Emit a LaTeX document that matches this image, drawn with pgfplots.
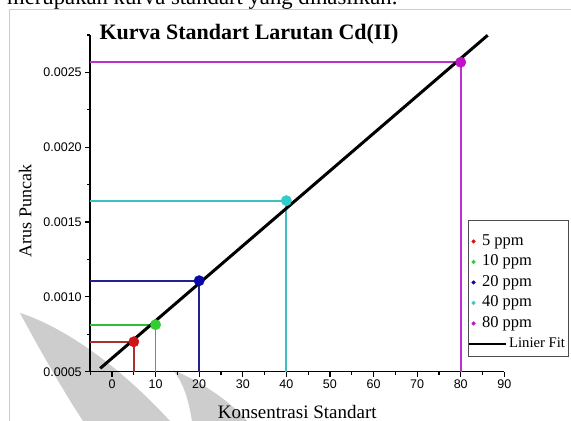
\documentclass[border=0pt]{standalone}
\usepackage{pgfplots}
\pgfplotsset{compat=1.18}
\usepackage{fontspec}
\setmainfont{Liberation Serif}
\newfontfamily\sansf{Liberation Sans}
\definecolor{cAl}{HTML}{A83232}
\definecolor{cAm}{HTML}{D01515}
\definecolor{cBl}{HTML}{33BB33}
\definecolor{cBm}{HTML}{33CC33}
\definecolor{cCl}{HTML}{22228F}
\definecolor{cCm}{HTML}{0808A8}
\definecolor{cDl}{HTML}{3FBFBF}
\definecolor{cDm}{HTML}{33CCCC}
\definecolor{cEl}{HTML}{BB33CC}
\definecolor{cEm}{HTML}{C010C8}
\definecolor{wm}{HTML}{CDCDCD}
\begin{document}
\begin{tikzpicture}
\path[use as bounding box] (-90.2bp,-49.3bp) rectangle (480.8bp,371.7bp);
\clip (-90.2bp,-49.3bp) rectangle (480.8bp,371.7bp);
\begin{scope}[shift={(-90.2bp,-49.3bp)}]
% watermark shapes
\fill[wm] (20bp,108bp) .. controls (55bp,97bp) and (110bp,65bp) .. (170bp,0bp) -- (83bp,0bp) .. controls (60bp,35bp) and (35bp,80bp) .. (20bp,108bp);
\fill[wm] (173bp,51bp) .. controls (200bp,40bp) and (230bp,20bp) .. (247bp,0bp) -- (192bp,0bp) .. controls (188bp,25bp) and (182bp,40bp) .. (173bp,51bp);
% page frame
\draw[black!20, line width=1bp] (10bp,0bp) -- (10bp,411bp) -- (571bp,411bp);
\node[anchor=base west, inner sep=0pt, font=\fontsize{22.7bp}{27bp}\selectfont] at (7bp,416.5bp) {merupakan kurva standart yang dihasilkan.};
\end{scope}
\begin{axis}[
  scale only axis, width=414.1bp, height=336.7bp,
  xmin=-5, xmax=90, ymin=0.0005, ymax=0.00275,
  clip=false,
  axis lines=left,
  axis line style={-, line width=1.5bp, black},
  tick align=outside,
  major tick length=5bp, minor tick length=3bp,
  tick style={black, line width=1.2bp},
  xtick={0,10,...,90}, minor xtick={-5,5,...,85},
  ytick={0.0005,0.001,0.0015,0.002,0.0025},
  minor ytick={0.00075,0.00125,0.00175,0.00225,0.00275},
  scaled y ticks=false,
  /pgf/number format/assume math mode=true,
  yticklabel style={/pgf/number format/.cd, fixed, fixed zerofill, precision=4},
  tick label style={font=\sansf\fontsize{12.5bp}{14bp}\selectfont},
  title={Kurva Standart Larutan Cd(II)},
  every axis title/.style={at={(axis description cs:0.3835,0.9866)}, anchor=base, font=\fontsize{22bp}{26bp}\selectfont\bfseries},
  xlabel={Konsentrasi Standart},
  every axis x label/.style={at={(axis description cs:0.5,-0.138)}, anchor=base, font=\fontsize{19bp}{22bp}\selectfont},
  ylabel={Arus Puncak},
  every axis y label/.style={at={(axis description cs:-0.157,0.477)}, anchor=center, rotate=90, font=\fontsize{18bp}{21bp}\selectfont},
  legend style={at={(0.9116,0.4506)}, anchor=north west, draw=black!70, line width=0.8bp,
    inner xsep=3.5bp, inner ysep=3.5bp, row sep=4.5bp, column sep=6.5bp,
    font=\fontsize{16.5bp}{19bp}\selectfont,
    cells={anchor=base west}, nodes={inner sep=0pt, text depth=5bp}},
]
% drop lines
\addplot[cAl, line width=1.8bp, forget plot] coordinates {(-5,0.0007) (5,0.0007) (5,0.0005)};
\addplot[cBl, line width=1.8bp, forget plot] coordinates {(-5,0.000814) (10,0.000814) (10,0.0005)};
\addplot[cCl, line width=1.8bp, forget plot] coordinates {(-5,0.001108) (20,0.001108) (20,0.0005)};
\addplot[cDl, line width=1.8bp, forget plot] coordinates {(-5,0.001643) (40,0.001643) (40,0.0005)};
\addplot[cEl, line width=1.8bp, forget plot] coordinates {(-5,0.002568) (80,0.002568) (80,0.0005)};
% points
\addplot[only marks, mark=*, mark size=5.2bp, color=cAm, mark options={draw=cAm, fill=cAm},
  legend image code/.code={\fill[cAm] (1.5bp,3.8bp) circle (1.6bp);}] coordinates {(5,0.0007)};
\addlegendentry{\rule{0pt}{21.4bp}5 ppm}
\addplot[only marks, mark=*, mark size=5.2bp, color=cBm, mark options={draw=cBm, fill=cBm},
  legend image code/.code={\fill[cBm] (1.5bp,3.8bp) circle (1.6bp);}] coordinates {(10,0.000814)};
\addlegendentry{\rule{0pt}{11bp}10 ppm}
\addplot[only marks, mark=*, mark size=5.2bp, color=cCm, mark options={draw=cCm, fill=cCm},
  legend image code/.code={\fill[cCm] (1.5bp,3.8bp) circle (1.6bp);}] coordinates {(20,0.001108)};
\addlegendentry{\rule{0pt}{11bp}20 ppm}
\addplot[only marks, mark=*, mark size=5.2bp, color=cDm, mark options={draw=cDm, fill=cDm},
  legend image code/.code={\fill[cDm] (1.5bp,3.8bp) circle (1.6bp);}] coordinates {(40,0.001643)};
\addlegendentry{\rule{0pt}{11bp}40 ppm}
\addplot[only marks, mark=*, mark size=5.2bp, color=cEm, mark options={draw=cEm, fill=cEm},
  legend image code/.code={\fill[cEm] (1.5bp,3.8bp) circle (1.6bp);}] coordinates {(80,0.002568)};
\addlegendentry{\rule{0pt}{11bp}80 ppm}
% linear fit
\addplot[black, line width=3bp,
  legend image code/.code={\draw[black, line width=2.5bp, overlay] (-3.2bp,3.8bp) -- (33.8bp,3.8bp);}]
  coordinates {(-2.7,0.0005224) (86.2,0.0027484)};
\addlegendentry{\rule{0pt}{11bp}\hspace{27bp}{\fontsize{14.7bp}{17bp}\selectfont Linier Fit}\hspace{8bp}}
\end{axis}
\end{tikzpicture}
\end{document}
